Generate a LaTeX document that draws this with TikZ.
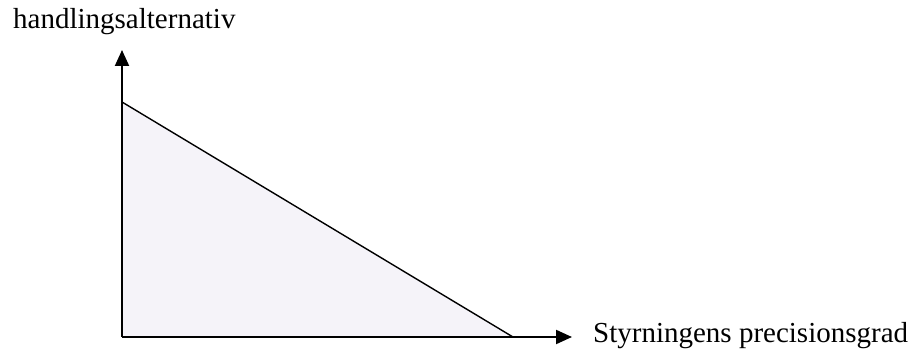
\documentclass[tikz,border=0pt]{standalone}
\usepackage{fontspec}
\setmainfont{Liberation Serif}
\usepackage{xcolor}
\usepackage{tikz}
\usetikzlibrary{arrows.meta,positioning}
\definecolor{areafill}{RGB}{245,243,249}
\tikzset{
  axis/.style={line width=2pt, draw=black, -{Triangle[length=16pt, width=14pt]}},
  edge/.style={line width=1.4pt, draw=black},
  lbl/.style={font=\fontsize{29}{34}\selectfont, inner sep=0pt, anchor=base west},
}

\begin{document}
\begin{tikzpicture}[x=1pt, y=-1pt]
    \useasboundingbox (0,0) rectangle (916,358);
    \coordinate (o) at (122,337);
    \coordinate (ytop) at (122,50);
    \coordinate (xend) at (572,337);
    \coordinate (a) at (122,102);
    \coordinate (b) at (513,337);
    \fill[areafill] (o)--(a)--(b)--cycle;
    \draw[edge] (a)--(b);
    \draw[axis] (o)--(ytop);
    \draw[axis] (o)--(xend);
    \node[lbl] (ylbl) at (13,29) {handlingsalternativ};
    \node[lbl] (xlbl) at (593,342) {Styrningens precisionsgrad};
  \end{tikzpicture}
\end{document}
